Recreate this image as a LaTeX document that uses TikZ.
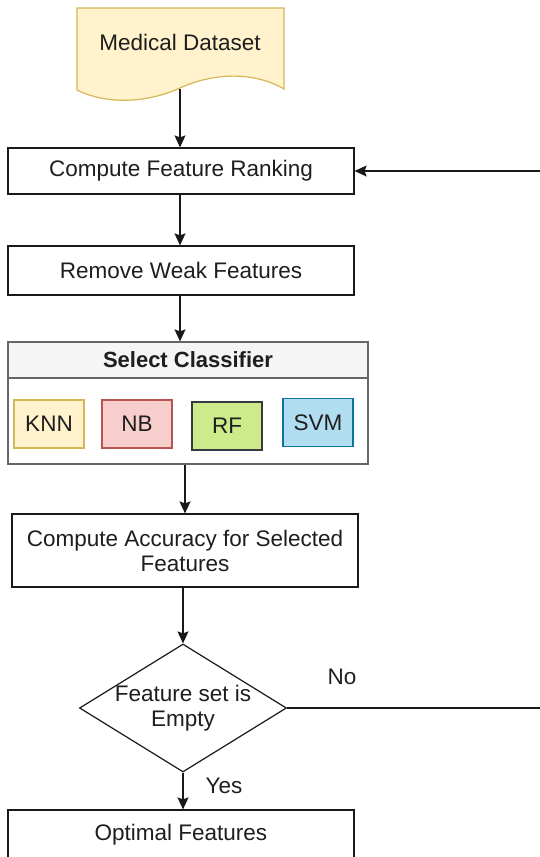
\documentclass[tikz,border=0pt]{standalone}
\usepackage{fontspec}
\setmainfont{Liberation Sans}
\usepackage{tikz}
\definecolor{docfill}{RGB}{255, 242, 204}
\definecolor{docline}{RGB}{214, 182, 86}
\definecolor{nbfill}{RGB}{248, 206, 204}
\definecolor{nbline}{RGB}{184, 84, 80}
\definecolor{rffill}{RGB}{205, 235, 139}
\definecolor{rfline}{RGB}{54, 57, 61}
\definecolor{svmfill}{RGB}{177, 221, 240}
\definecolor{svmline}{RGB}{16, 115, 158}
\definecolor{panelline}{RGB}{102, 102, 102}
\definecolor{headfill}{RGB}{245, 245, 245}
\definecolor{textgray}{RGB}{30, 30, 30}
\usetikzlibrary{shapes, arrows.meta, positioning, calc}

\begin{document}
\begin{tikzpicture}[
    x=1pt, y=1pt,
    every node/.style={font=\fontsize{22.5}{25}\selectfont, text=textgray},
    procbox/.style={rectangle, draw=black!90, fill=white, line width=1.2pt, minimum width=346pt, inner sep=0pt, align=center},
    clsbox/.style={rectangle, line width=1.2pt, minimum width=70pt, minimum height=48pt, inner sep=0pt},
    decision/.style={diamond, aspect=1.617, draw=black!90, fill=white, line width=1.2pt, minimum width=207pt, minimum height=128pt, inner sep=-3pt, align=center},
    arrow/.style={-{Stealth[length=12pt, width=11pt, inset=2pt]}, line width=1.3pt, black!90}
]
    \clip (0,0) rectangle (540,-857);

    % Input data (document shape)
    \draw[draw=docline, fill=docfill, line width=1.2pt]
        (77,-8) -- (284,-8) -- (284,-89)
        .. controls (255,-72) and (215,-72) .. (180,-88)
        .. controls (145,-104) and (105,-104) .. (77,-90) -- cycle;
    \node (data) at (180,-42) {Medical Dataset};
    \coordinate (databot) at (180,-89);

    % Ranking steps
    \node[procbox, minimum height=46pt] (rank) at (181,-171) {Compute Feature Ranking};
    \node[procbox, minimum height=49pt] (weak) at (181,-270.5) {Remove Weak Features};

    % Classifier container
    \node[rectangle, draw=panelline, fill=white, line width=1.2pt, minimum width=360pt, minimum height=86pt, inner sep=0pt] (panel) at (188,-421) {};
    \node[rectangle, draw=panelline, fill=headfill, line width=1.2pt, minimum width=360pt, minimum height=36pt, inner sep=0pt, font=\fontsize{22}{25}\selectfont\bfseries] (select) at (188,-360) {Select Classifier};
    \node[clsbox, draw=docline, fill=docfill] (knn) at (49,-424) {KNN};
    \node[clsbox, draw=nbline, fill=nbfill] (nb) at (137,-424) {NB};
    \node[clsbox, draw=rfline, fill=rffill] (rf) at (227,-426) {RF};
    \node[clsbox, draw=svmline, fill=svmfill] (svm) at (318,-422.5) {SVM};

    % Evaluation and decision
    \node[procbox, minimum height=73pt] (acc) at (185,-550.5) {Compute Accuracy for Selected\\Features};
    \node[decision] (empty) at (183,-708) {Feature set is\\Empty};
    \node[procbox, minimum height=50pt] (optimal) at (181,-835) {Optimal Features};

    % Arrows
    \draw[arrow] (databot) -- (databot |- rank.north);
    \draw[arrow] (rank.south -| databot) -- (weak.north -| databot);
    \draw[arrow] (weak.south -| databot) -- (select.north -| databot);
    \draw[arrow] (panel.south -| acc) -- (acc.north);
    \draw[arrow] (acc.south -| empty) -- (empty.north);
    \draw[arrow] (empty.south) -- (optimal.north -| empty);
    \draw[arrow] (empty.east) -- ++(300,0) |- (rank.east);

    % Labels
    \node at (342,-677) {No};
    \node at (224,-786) {Yes};
\end{tikzpicture}
\end{document}
